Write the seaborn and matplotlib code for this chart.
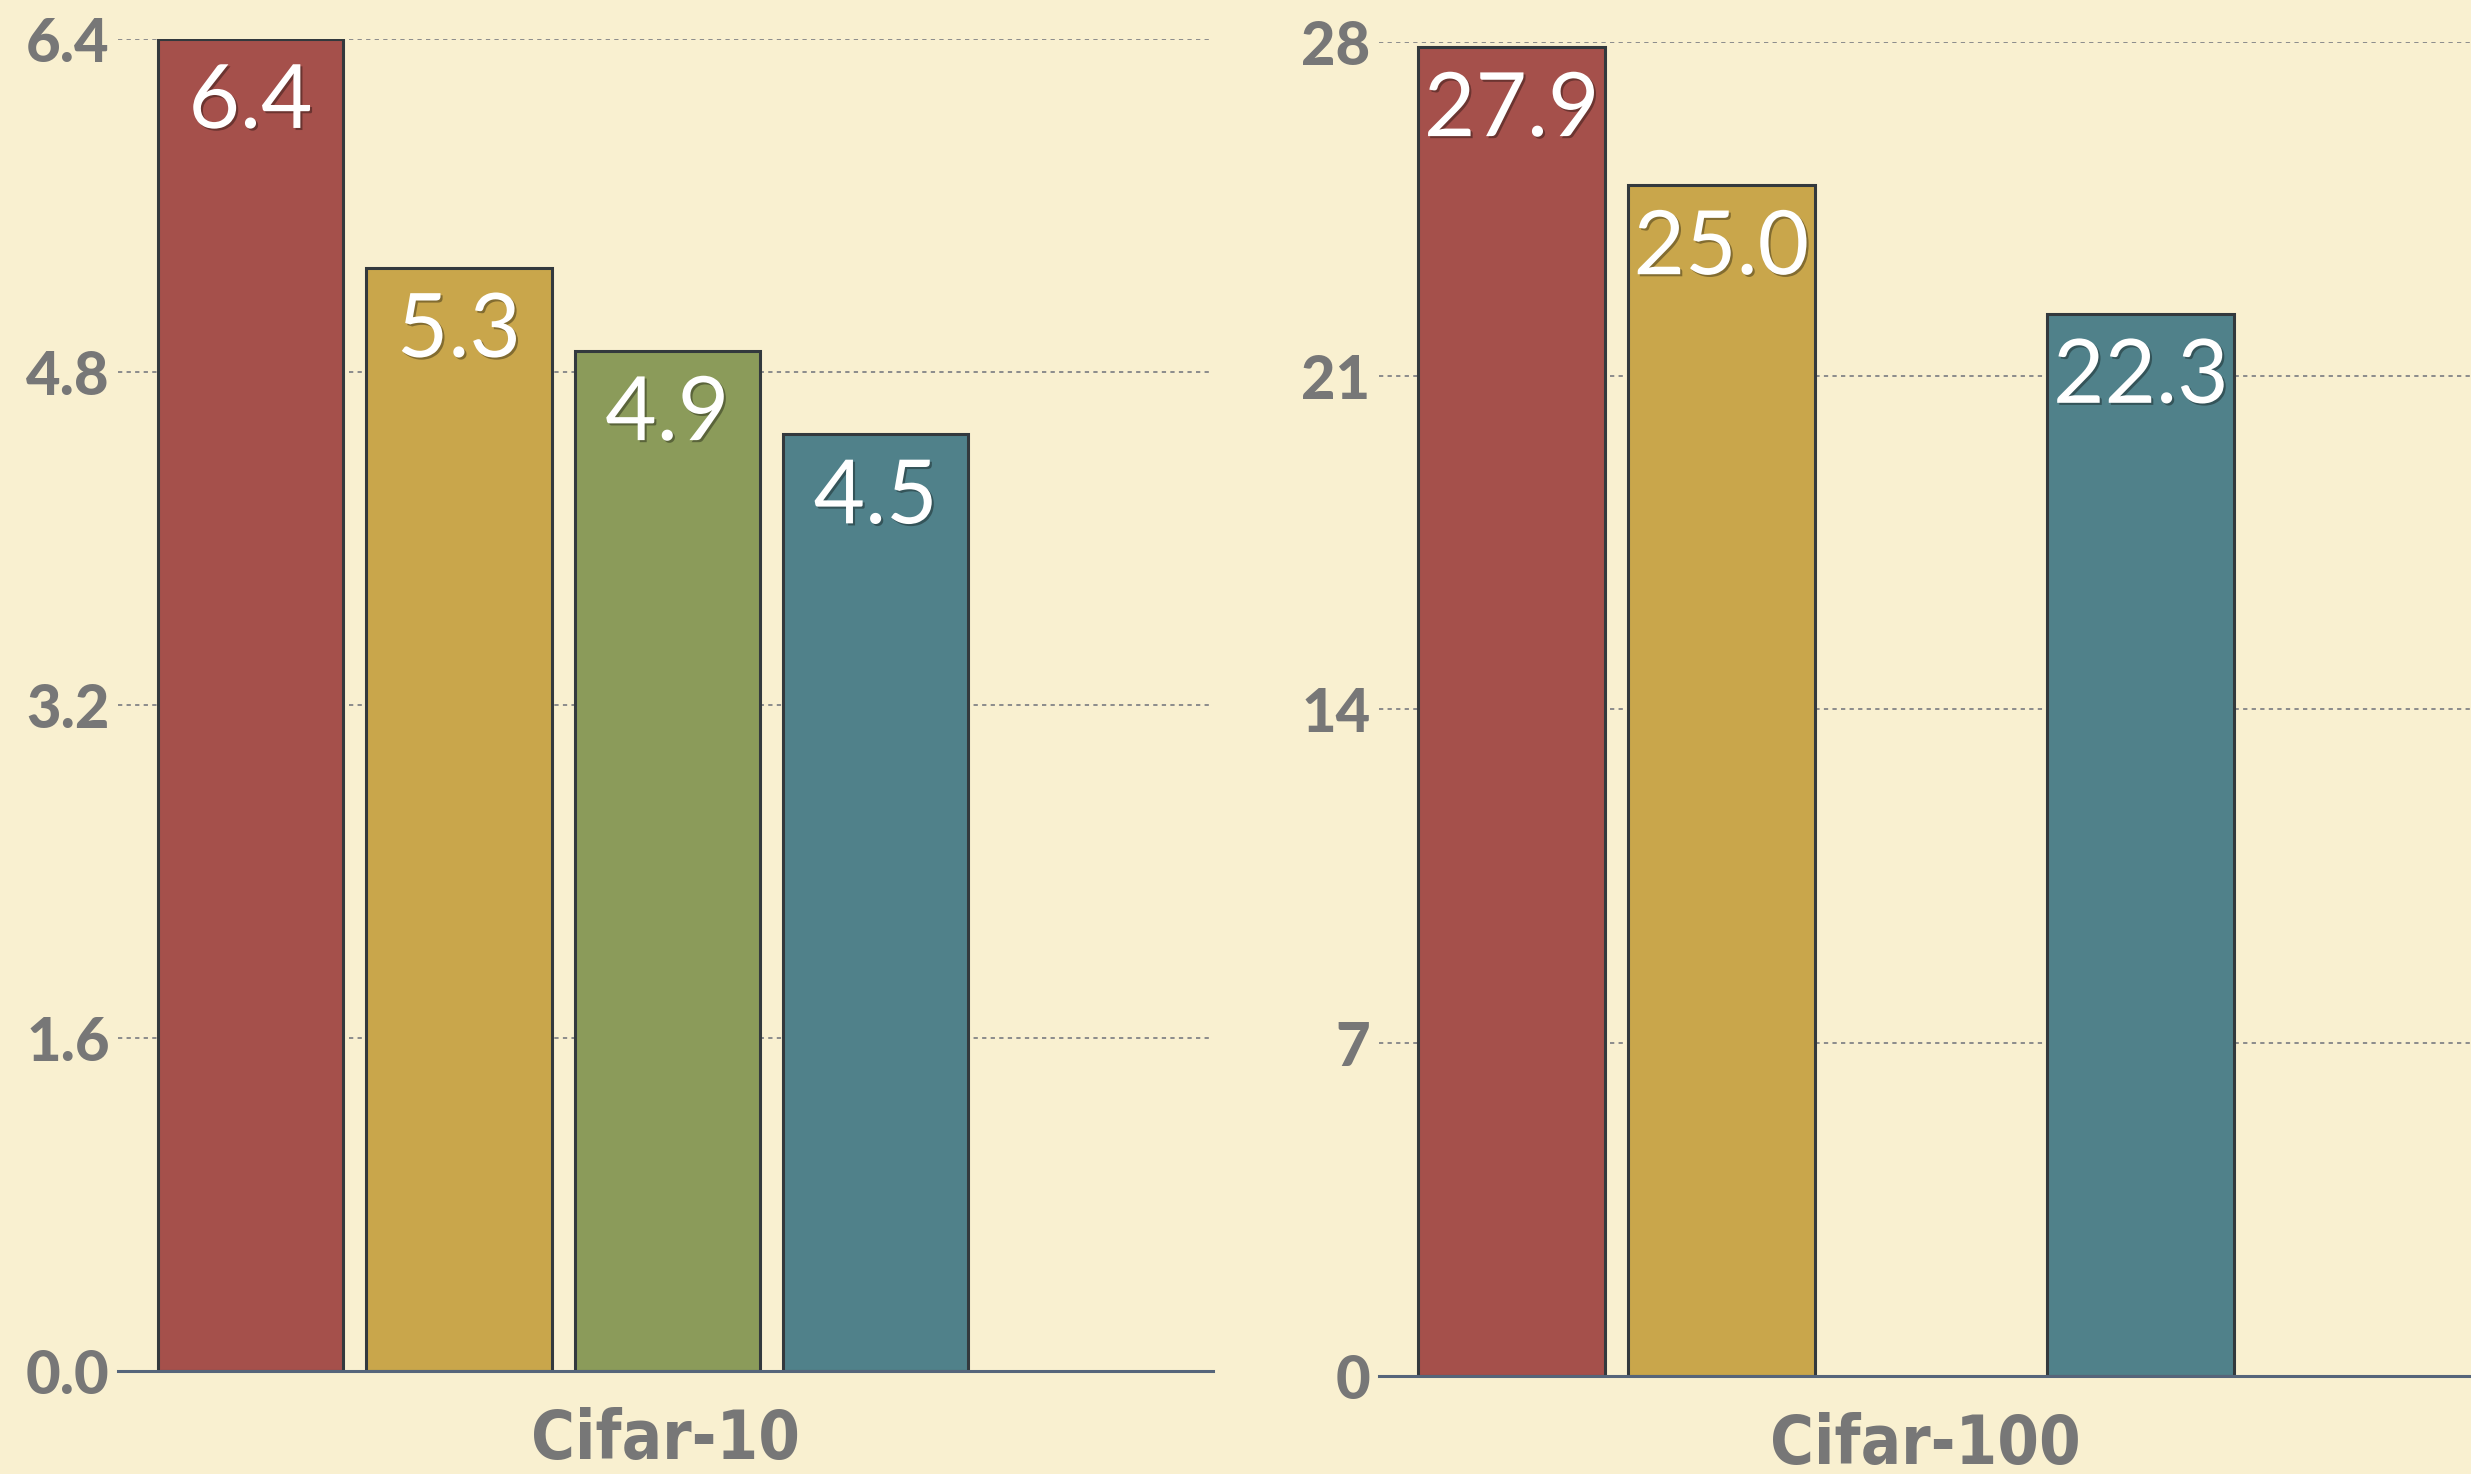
import numpy as np
import pandas as pd
import matplotlib
matplotlib.use("Agg")
import matplotlib.pyplot as plt
import matplotlib.patheffects as pe
import seaborn as sns

# values
methods = ["A", "B", "C", "D"]
cifar10_err = [6.4, 5.3, 4.9, 4.5]
cifar100_err = [27.9, 25.0, np.nan, 22.3]  # third method has no Cifar-100 bar
cifar10_ticks = [0.0, 1.6, 3.2, 4.8, 6.4]
cifar100_ticks = [0, 7, 14, 21, 28]

bar_colors = ["#a5504b", "#c9a64b", "#8b9b5a", "#50818a"]
bg = "#f9f0d0"
tick_grey = "#777777"

sns.set_theme(style="white")
plt.rcParams["font.family"] = ["Lato", "DejaVu Sans"]


def draw_panel(ax, name, values, ticks, fmt, xlim):
    df = pd.DataFrame({"dataset": name, "method": methods, "error": values})
    sns.barplot(data=df, x="dataset", y="error", hue="method", hue_order=methods,
                palette=bar_colors, saturation=1, gap=0.11, width=0.8, errorbar=None,
                edgecolor="#33393d", linewidth=2.2, legend=False, ax=ax)
    ax.set_facecolor(bg)
    ax.set_xlim(*xlim)
    ax.set_ylim(0, ticks[-1])
    ax.set_yticks(ticks)
    ax.set_yticklabels([fmt.format(t) for t in ticks], fontsize=43,
                       fontweight="black", color=tick_grey)
    ax.tick_params(axis="y", length=0, pad=6)
    ax.set_xticks([])
    ax.set_ylabel("")
    ax.set_xlabel(name, fontsize=48, fontweight="bold", fontstretch="condensed",
                  color=tick_grey, family=["DejaVu Sans"], labelpad=26)
    ax.yaxis.grid(True, linestyle=(0, (2.2, 2.2)), color="#8c8c8c", lw=1.4)
    ax.set_axisbelow(True)
    for s in ["left", "top", "right"]:
        ax.spines[s].set_visible(False)
    ax.spines["bottom"].set_color("#56657a")
    ax.spines["bottom"].set_linewidth(2.2)

    # white value labels just inside the bar tops
    for p in ax.patches:
        h = p.get_height()
        if not np.isfinite(h) or h == 0:
            continue
        ax.annotate(f"{h:.1f}", (p.get_x() + p.get_width() / 2, h),
                    xytext=(0, -46), textcoords="offset points",
                    ha="center", va="center", fontsize=64, color="white",
                    path_effects=[pe.withSimplePatchShadow(offset=(1.5, -1.5),
                                                           shadow_rgbFace="black",
                                                           alpha=0.35)])


fig = plt.figure(figsize=(24.71, 14.74), dpi=100, facecolor=bg)
ax1 = fig.add_axes([0.0478, 0.0699, 0.4432, 0.9036])
ax2 = fig.add_axes([0.558, 0.0665, 0.442, 0.9047])

draw_panel(ax1, "Cifar-10", cifar10_err, cifar10_ticks, "{:.1f}", (-0.427, 0.624))
draw_panel(ax2, "Cifar-100", cifar100_err, cifar100_ticks, "{:d}", (-0.4266, 0.615))

fig.savefig("out.png", dpi=100, facecolor=bg)
